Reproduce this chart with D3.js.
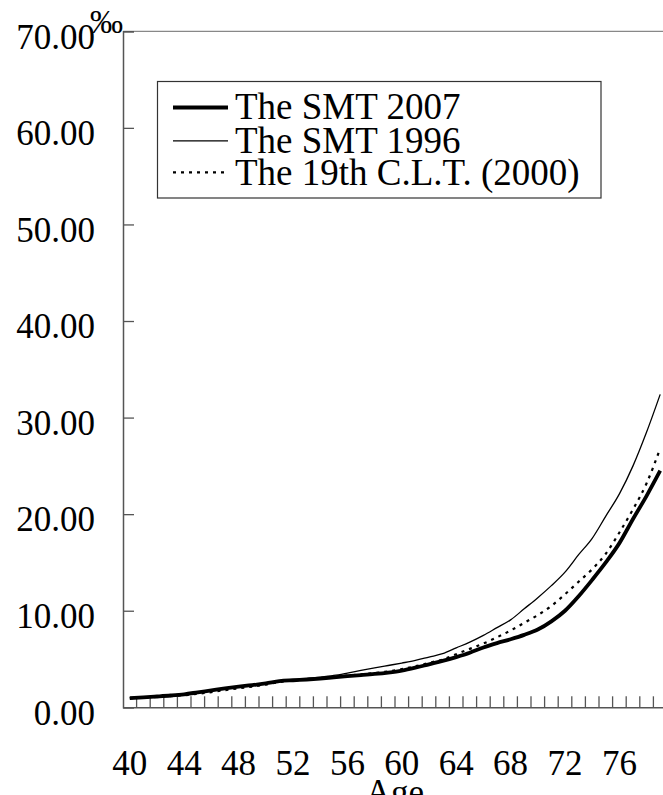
<!DOCTYPE html>
<html>
<head>
<meta charset="utf-8">
<script src="https://cdn.jsdelivr.net/npm/d3@7"></script>
<style>
    body { margin: 0; background: #fff; }
    svg text { font-family: 'Liberation Serif', 'Times New Roman', Times, 'DejaVu Serif', serif !important; fill: #000; }
</style>
</head>
<body>
<div id="chart"></div>
<script>
// Data (per mille)
const ages = d3.range(40, 80);
const smt2007 = [0.96, 1.03, 1.12, 1.22, 1.35, 1.55, 1.75, 1.95, 2.13, 2.30,
    2.47, 2.70, 2.80, 2.88, 2.98, 3.10, 3.22, 3.33, 3.45, 3.60,
    3.80, 4.10, 4.45, 4.80, 5.20, 5.65, 6.20, 6.65, 7.05, 7.50,
    8.05, 8.90, 10.0, 11.5, 13.2, 15.0, 17.0, 19.5, 21.9, 24.5];
const smt1996 = [1.00, 1.07, 1.15, 1.25, 1.38, 1.55, 1.73, 1.92, 2.10, 2.28,
    2.47, 2.65, 2.82, 2.98, 3.12, 3.30, 3.55, 3.82, 4.08, 4.33,
    4.58, 4.85, 5.20, 5.55, 6.15, 6.75, 7.45, 8.25, 9.05, 10.2,
    11.35, 12.6, 14.0, 15.8, 17.5, 19.8, 22.1, 25.0, 28.5, 32.4];
const clt2000 = [0.95, 1.00, 1.07, 1.15, 1.25, 1.40, 1.58, 1.78, 1.97, 2.15,
    2.35, 2.62, 2.78, 2.90, 3.02, 3.15, 3.28, 3.40, 3.55, 3.72,
    3.95, 4.25, 4.60, 4.95, 5.50, 6.05, 6.60, 7.25, 7.95, 8.75,
    9.55, 10.5, 11.7, 13.0, 14.3, 15.9, 18.1, 20.5, 23.2, 26.8];
const seriesNames = ['The SMT 2007', 'The SMT 1996', 'The 19th C.L.T. (2000)'];
const yTicks = [0, 10, 20, 30, 40, 50, 60, 70];
const xTickLabels = [40, 44, 48, 52, 56, 60, 64, 68, 72, 76];

// Configuration
const W = 663, H = 795;
const plot = {left: 123, right: 667, top: 31.3, bottom: 707.3};
const fontSize = 35;
const legendFontSize = 37;
const serif = "'Liberation Serif', 'Times New Roman', Times, 'DejaVu Serif', serif";

const styles = [
    {width: 3.8, dash: null},
    {width: 1.3, dash: null},
    {width: 2.2, dash: '3,5'}
];

const svg = d3.select('#chart')
    .append('svg')
    .attr('width', W)
    .attr('height', H)
    .attr('font-family', serif);

// Scales
const x = d3.scaleBand()
    .domain(ages)
    .range([plot.left, plot.right])
    .padding(0);

const y = d3.scaleLinear()
    .domain([0, 70])
    .range([plot.bottom, plot.top]);

// Plot area border (top and right)
svg.append('path')
    .attr('d', `M${plot.left},${plot.top}H${plot.right}V${plot.bottom}`)
    .attr('fill', 'none')
    .attr('stroke', '#888')
    .attr('stroke-width', 1.2);

// Y axis
const yAxis = svg.append('g')
    .attr('transform', `translate(${plot.left},0)`)
    .call(d3.axisLeft(y)
        .tickValues(yTicks)
        .tickSize(-11)
        .tickPadding(28)
        .tickFormat(d3.format('.2f')))
    .attr('font-family', serif);
yAxis.select('.domain').attr('stroke', '#555').attr('stroke-width', 1.5);
yAxis.selectAll('.tick line').attr('stroke', '#555').attr('stroke-width', 1.3);
yAxis.selectAll('.tick text')
    .attr('dy', '0.48em')
    .style('font-size', fontSize + 'px')
    .attr('fill', '#000');

// Unit label
svg.append('text')
    .attr('x', 90)
    .attr('y', 33)
    .style('font-size', '33px')
    .text('‰');

// X axis: labels at category centres
const xAxis = svg.append('g')
    .attr('transform', `translate(0,${plot.bottom})`)
    .call(d3.axisBottom(x)
        .tickValues(xTickLabels)
        .tickSize(0)
        .tickPadding(43))
    .attr('font-family', serif);
xAxis.select('.domain').attr('stroke', '#555').attr('stroke-width', 1.5);
xAxis.selectAll('.tick text')
    .style('font-size', fontSize + 'px')
    .attr('fill', '#000');

// X tick marks between categories, pointing inward
svg.append('g')
    .selectAll('line')
    .data(ages.slice(1))
    .enter()
    .append('line')
    .attr('x1', d => x(d))
    .attr('x2', d => x(d))
    .attr('y1', plot.bottom)
    .attr('y2', plot.bottom - 11)
    .attr('stroke', '#555')
    .attr('stroke-width', 1.3);

// Axis title
svg.append('text')
    .attr('x', (plot.left + plot.right) / 2)
    .attr('y', 804)
    .attr('text-anchor', 'middle')
    .style('font-size', fontSize + 'px')
    .text('Age');

// Lines
const allSeries = [smt2007, smt1996, clt2000];
const line = d3.line()
    .x((d, i) => x(ages[i]) + x.bandwidth() / 2)
    .y(d => y(d))
    .curve(d3.curveMonotoneX);

// draw thin ones first so the thick line sits on top
[1, 2, 0].forEach(k => {
    svg.append('path')
        .datum(allSeries[k])
        .attr('d', line)
        .attr('fill', 'none')
        .attr('stroke', '#000')
        .attr('stroke-width', styles[k].width)
        .attr('stroke-dasharray', styles[k].dash)
        .attr('stroke-linejoin', 'round');
});

// Legend
const legend = svg.append('g');
legend.append('rect')
    .attr('x', 157.5)
    .attr('y', 81.5)
    .attr('width', 443.5)
    .attr('height', 116.5)
    .attr('fill', '#fff')
    .attr('stroke', '#333')
    .attr('stroke-width', 1.2);

const baselines = [119, 152.5, 185];
const lineYs = [107.5, 140.8, 172.3];
seriesNames.forEach((name, i) => {
    legend.append('line')
        .attr('x1', 173)
        .attr('x2', 228)
        .attr('y1', lineYs[i])
        .attr('y2', lineYs[i])
        .attr('stroke', '#000')
        .attr('stroke-width', styles[i].width)
        .attr('stroke-dasharray', styles[i].dash);
    legend.append('text')
        .attr('x', 235)
        .attr('y', baselines[i])
        .style('font-size', legendFontSize + 'px')
        .text(name);
});
</script>
</body>
</html>
